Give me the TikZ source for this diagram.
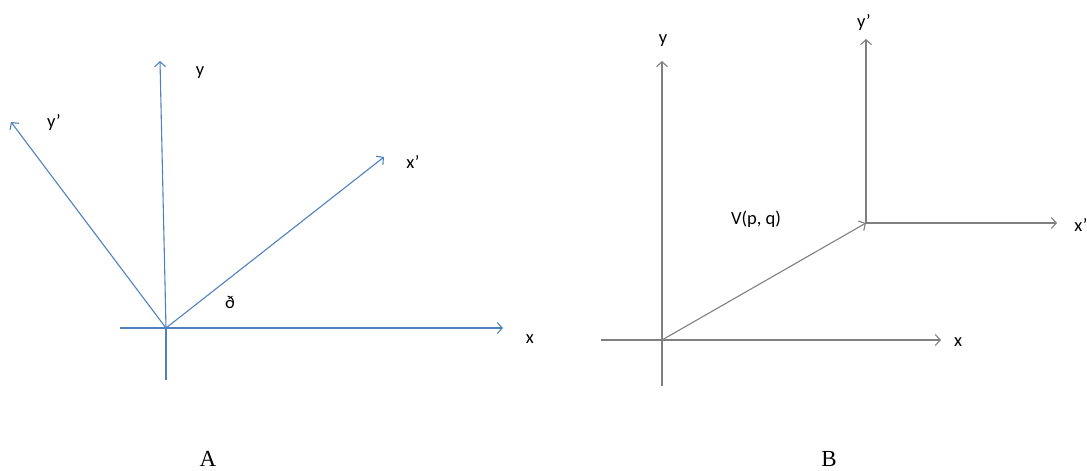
\documentclass[tikz,border=0pt]{standalone}
\usepackage{fontspec}
\setmainfont{Carlito}
\newfontfamily\capfont{Liberation Serif}
\usetikzlibrary{arrows.meta}
\definecolor{axisblue}{RGB}{79,129,189}
\definecolor{axisgray}{RGB}{128,128,128}
\tikzset{
  bluearrow/.style={draw=axisblue, line width=1.1pt, -{Straight Barb[length=5pt,width=11pt]}},
  blueline/.style={draw=axisblue, line width=1.1pt},
  grayarrow/.style={draw=axisgray, line width=1.1pt, -{Straight Barb[length=5pt,width=11pt]}},
  grayline/.style={draw=axisgray, line width=1.1pt},
  axlabel/.style={font=\fontsize{18.5}{20}\selectfont, inner sep=0pt, text=black},
  panlabel/.style={font=\capfont\fontsize{23}{25}\selectfont, inner sep=0pt, text=black}
}
\begin{document}
\begin{tikzpicture}[x=1pt,y=-1pt]
\useasboundingbox (0,0) rectangle (1087,471);
% ---------- Panel A ----------
\coordinate (Ao) at (166,328);
\coordinate (Axl) at (120,328);
\coordinate (Axr) at (503,328);
\coordinate (Ayb) at (166,380);
\coordinate (Ayt) at (160,61);
\coordinate (Ayp) at (11,122);
\coordinate (Axp) at (384,157);
\draw[blueline] (Axl) -- (Ao);
\draw[bluearrow] (Ao) -- (Axr);
\draw[blueline] (Ayb) -- (Ao);
\draw[bluearrow] (Ao) -- (Ayt);
\draw[bluearrow] (Ao) -- (Ayp);
\draw[bluearrow] (Ao) -- (Axp);
\node[axlabel] (lAx) at (530,339) {x};
\node[axlabel] (lAy) at (200,73) {y};
\node[axlabel] (lAyp) at (54,122) {y’};
\node[axlabel] (lAxp) at (413,162) {x’};
\node[axlabel] (lAth) at (230,302) {ð};
\node[panlabel] (lA) at (208,459) {A};
% ---------- Panel B ----------
\coordinate (Bo) at (662,340);
\coordinate (Bxl) at (601,340);
\coordinate (Bxr) at (941,340);
\coordinate (Byb) at (662,386);
\coordinate (Byt) at (662,61);
\coordinate (Bp) at (866,223);
\coordinate (Bypt) at (866,39);
\coordinate (Bxpr) at (1057,223);
\draw[grayline] (Bxl) -- (Bo);
\draw[grayarrow] (Bo) -- (Bxr);
\draw[grayline] (Byb) -- (Bo);
\draw[grayarrow] (Bo) -- (Byt);
\draw[grayarrow] (Bo) -- (Bp);
\draw[grayarrow] (Bp) -- (Bypt);
\draw[grayarrow] (Bp) -- (Bxpr);
\node[axlabel] (lBx) at (958,342) {x};
\node[axlabel] (lBy) at (663,41) {y};
\node[axlabel] (lBp) at (756,219) {V(p, q)};
\node[axlabel] (lByp) at (864,22) {y’};
\node[axlabel] (lBxp) at (1081,225) {x’};
\node[panlabel] (lB) at (829,459) {B};
\end{tikzpicture}
\end{document}
